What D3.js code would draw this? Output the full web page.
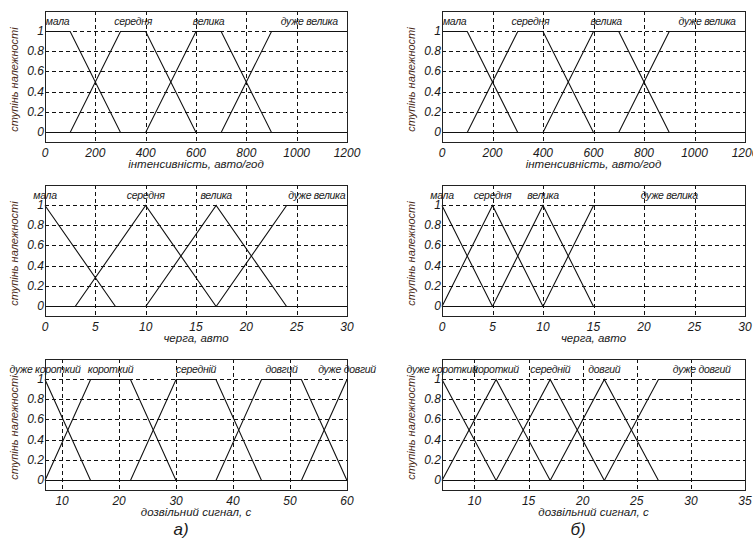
<!DOCTYPE html>
<html lang="uk">
<head>
<meta charset="UTF-8">
<title>Функції належності</title>
<script src="https://d3js.org/d3.v7.min.js"></script>
<style>
  body { margin: 0; background: #fff; }
  svg text { font-family: "Liberation Sans", Arial, sans-serif; font-style: italic; }
</style>
</head>
<body>
<svg id="chart" width="753" height="539"></svg>
<script>
// --- data: trapezoid parameters [a, b, c, d] ---

var intensityTicks = [0, 200, 400, 600, 800, 1000, 1200];
var intensityTerms = ["мала", "середня", "велика", "дуже велика"];
var intensityMfA = [[0, 0, 100, 300], [100, 300, 400, 600], [400, 600, 700, 900], [700, 900, 1200, 1200]];
var intensityMfB = [[0, 0, 100, 300], [100, 300, 400, 600], [400, 600, 700, 900], [700, 900, 1200, 1200]];

var queueTicks = [0, 5, 10, 15, 20, 25, 30];
var queueTerms = ["мала", "середня", "велика", "дуже велика"];
var queueMfA = [[0, 0, 0, 7], [3, 10, 10, 17], [10, 17, 17, 24], [17, 24, 30, 30]];
var queueMfB = [[0, 0, 0, 5], [0, 5, 5, 10], [5, 10, 10, 15], [10, 15, 30, 30]];

var signalTicksA = [10, 20, 30, 40, 50, 60];
var signalTicksB = [10, 15, 20, 25, 30, 35];
var signalTerms = ["дуже короткий", "короткий", "середній", "довгий", "дуже довгий"];
var signalMfA = [[7, 7, 7, 15], [7, 15, 22, 30], [22, 30, 37, 45], [37, 45, 52, 60], [52, 60, 60, 60]];
var signalMfB = [[7, 7, 7, 12], [7, 12, 12, 17], [12, 17, 17, 22], [17, 22, 22, 27], [22, 27, 35, 35]];

var yTicks = [0, 0.2, 0.4, 0.6, 0.8, 1];
var yTitle = "ступінь належності";

var panels = [
  { col: 0, row: 0, domain: [0, 1200], ticks: intensityTicks, terms: intensityTerms, mf: intensityMfA, title: "інтенсивність, авто/год" },
  { col: 1, row: 0, domain: [0, 1200], ticks: intensityTicks, terms: intensityTerms, mf: intensityMfB, title: "інтенсивність, авто/год" },
  { col: 0, row: 1, domain: [0, 30], ticks: queueTicks, terms: queueTerms, mf: queueMfA, title: "черга, авто" },
  { col: 1, row: 1, domain: [0, 30], ticks: queueTicks, terms: queueTerms, mf: queueMfB, title: "черга, авто" },
  { col: 0, row: 2, domain: [7, 60], ticks: signalTicksA, terms: signalTerms, mf: signalMfA, title: "дозвільний сигнал, с" },
  { col: 1, row: 2, domain: [7, 35], ticks: signalTicksB, terms: signalTerms, mf: signalMfB, title: "дозвільний сигнал, с" }
];

var captions = ["а)", "б)"];

// --- layout ---
var colX = [[45, 347], [442, 745]];
var rowTop = [11, 185, 359];
var plotH = 131;

var svg = d3.select("#chart");

// trapezoid membership value
function trapmf(x, p) {
  var a = p[0], b = p[1], c = p[2], d = p[3];
  var left = (b === a) ? (x >= a ? 1 : 0) : (x - a) / (b - a);
  var right = (d === c) ? (x <= d ? 1 : 0) : (d - x) / (d - c);
  return Math.max(0, Math.min(left, 1, right));
}

panels.forEach(function(p) {
  var x = d3.scaleLinear().domain(p.domain).range(colX[p.col]);
  var top = rowTop[p.row];
  var y = d3.scaleLinear().domain([-0.1, 1.2]).range([top + plotH, top]);
  var g = svg.append("g");

  // grid
  g.selectAll(".vgrid").data(p.ticks.filter(function(t) { return t > p.domain[0] && t < p.domain[1]; }))
    .enter().append("line")
    .attr("x1", function(d) { return Math.round(x(d)) + 0.5; })
    .attr("x2", function(d) { return Math.round(x(d)) + 0.5; })
    .attr("y1", top).attr("y2", top + plotH)
    .attr("stroke", "#111").attr("stroke-dasharray", "4,3");

  g.selectAll(".hgrid").data(yTicks)
    .enter().append("line")
    .attr("x1", x.range()[0]).attr("x2", x.range()[1])
    .attr("y1", function(d) { return Math.round(y(d)) + 0.5; })
    .attr("y2", function(d) { return Math.round(y(d)) + 0.5; })
    .attr("stroke", "#111").attr("stroke-dasharray", "4,3");

  // membership functions over the full range
  var line = d3.line().x(function(d) { return x(d[0]); }).y(function(d) { return Math.round(y(d[1])) + 0.5; });
  p.mf.forEach(function(m) {
    var xs = [p.domain[0]].concat(m, [p.domain[1]])
      .filter(function(v) { return v >= p.domain[0] && v <= p.domain[1]; });
    xs = Array.from(new Set(xs)).sort(d3.ascending);
    var pts = [];
    xs.forEach(function(v) {
      // keep vertical jumps at a == b edges
      if (m[0] === m[1] && v === m[0] && v > p.domain[0]) pts.push([v, 0]);
      pts.push([v, trapmf(v, m)]);
    });
    g.append("path").attr("d", line(pts))
      .attr("fill", "none").attr("stroke", "#111").attr("stroke-width", 1.1);
  });

  // term labels
  g.selectAll(".term").data(p.terms).enter().append("text")
    .attr("x", function(d, i) { return x((p.mf[i][1] + p.mf[i][2]) / 2); })
    .attr("y", y(1.1) + 4)
    .attr("text-anchor", "middle")
    .attr("font-size", 10.5).attr("letter-spacing", -0.3).attr("fill", "#1a1a1a")
    .text(function(d) { return d; });

  // box
  g.append("rect")
    .attr("x", x.range()[0] + 0.5).attr("y", top + 0.5)
    .attr("width", x.range()[1] - x.range()[0]).attr("height", plotH)
    .attr("fill", "none").attr("stroke", "#222");

  // tick labels
  g.selectAll(".xt").data(p.ticks).enter().append("text")
    .attr("x", function(d) { return x(d); })
    .attr("y", top + plotH + 15)
    .attr("text-anchor", "middle")
    .attr("font-size", 12).attr("fill", "#1a1a1a")
    .text(function(d) { return d; });

  g.selectAll(".yt").data(yTicks).enter().append("text")
    .attr("x", x.range()[0] - 1)
    .attr("y", function(d) { return y(d) + 4; })
    .attr("text-anchor", "end")
    .attr("font-size", 12).attr("fill", "#1a1a1a")
    .text(function(d) { return d; });

  // axis titles
  g.append("text")
    .attr("x", (x.range()[0] + x.range()[1]) / 2)
    .attr("y", top + plotH + 26)
    .attr("text-anchor", "middle")
    .attr("font-size", 11.5).attr("fill", "#1a1a1a")
    .text(p.title);

  g.append("text")
    .attr("transform", "translate(" + (x.range()[0] - 27) + "," + (top + plotH / 2 + 3) + ") rotate(-90)")
    .attr("text-anchor", "middle")
    .attr("font-size", 11).attr("fill", "#4a2a18")
    .text(yTitle);
});

// captions under the columns
svg.selectAll(".cap").data(captions).enter().append("text")
  .attr("x", function(d, i) { return i === 0 ? 181 : 578; })
  .attr("y", 535)
  .attr("text-anchor", "middle")
  .attr("font-size", 17).attr("fill", "#1a1a1a")
  .text(function(d) { return d; });
</script>
</body>
</html>
